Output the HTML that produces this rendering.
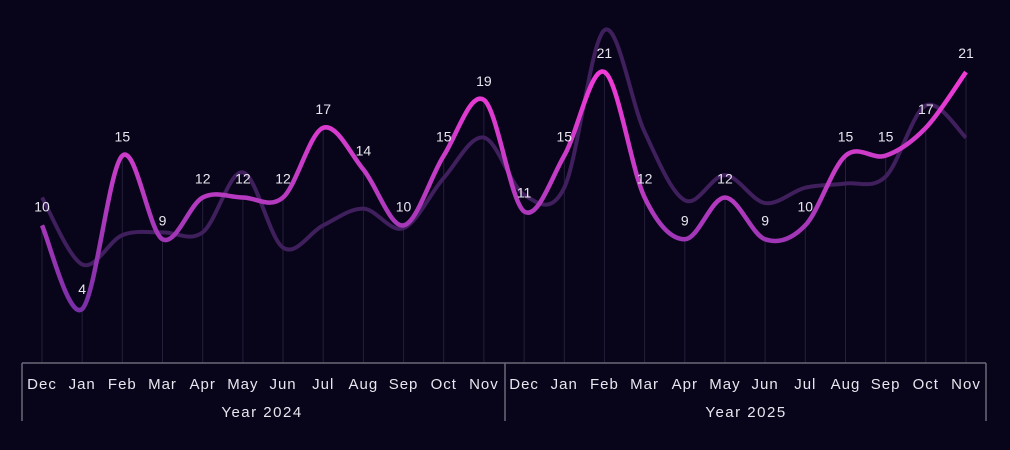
<!DOCTYPE html>
<html><head><meta charset="utf-8"><style>
html,body{margin:0;padding:0;background:#08041a;}
svg{display:block}
text{font-family:"Liberation Sans",sans-serif;fill:#e8e6ee;}
</style></head><body>
<svg id="s" width="1010" height="450" xmlns="http://www.w3.org/2000/svg">
<defs>
<linearGradient id="g" gradientUnits="userSpaceOnUse" x1="0" y1="72" x2="0" y2="309">
<stop offset="0" stop-color="#f23ad8"/><stop offset="0.45" stop-color="#c03cc4"/><stop offset="1" stop-color="#7a2fa6"/>
</linearGradient>
</defs>
<rect width="1010" height="450" fill="#08041a"/>
<g stroke="#24203a" stroke-width="1">
<line x1="42" y1="225" x2="42" y2="363"/>
<line x1="82.2" y1="309" x2="82.2" y2="363"/>
<line x1="122.3" y1="156" x2="122.3" y2="363"/>
<line x1="162.5" y1="239" x2="162.5" y2="363"/>
<line x1="202.7" y1="197" x2="202.7" y2="363"/>
<line x1="242.9" y1="197" x2="242.9" y2="363"/>
<line x1="283" y1="197" x2="283" y2="363"/>
<line x1="323.2" y1="128" x2="323.2" y2="363"/>
<line x1="363.4" y1="170" x2="363.4" y2="363"/>
<line x1="403.6" y1="225" x2="403.6" y2="363"/>
<line x1="443.7" y1="156" x2="443.7" y2="363"/>
<line x1="483.9" y1="100" x2="483.9" y2="363"/>
<line x1="524.1" y1="211" x2="524.1" y2="363"/>
<line x1="564.3" y1="156" x2="564.3" y2="363"/>
<line x1="604.4" y1="72" x2="604.4" y2="363"/>
<line x1="644.6" y1="197" x2="644.6" y2="363"/>
<line x1="684.8" y1="239" x2="684.8" y2="363"/>
<line x1="725" y1="197" x2="725" y2="363"/>
<line x1="765.1" y1="239" x2="765.1" y2="363"/>
<line x1="805.3" y1="225" x2="805.3" y2="363"/>
<line x1="845.5" y1="156" x2="845.5" y2="363"/>
<line x1="885.7" y1="156" x2="885.7" y2="363"/>
<line x1="925.8" y1="128" x2="925.8" y2="363"/>
<line x1="966" y1="72" x2="966" y2="363"/>
</g>
<path id="p2" fill="none" stroke="#3f1f5c" stroke-width="4"/>
<path id="p1" fill="none" stroke="url(#g)" stroke-width="4.5"/>
<g id="lbl" font-size="14" text-anchor="middle"></g>
<line x1="22" y1="363" x2="986" y2="363" stroke="#6a6878" stroke-width="1.5"/>
<line x1="22" y1="363" x2="22" y2="421" stroke="#6a6878" stroke-width="1.5"/>
<line x1="505" y1="363" x2="505" y2="421" stroke="#6a6878" stroke-width="1.5"/>
<line x1="986" y1="363" x2="986" y2="421" stroke="#6a6878" stroke-width="1.5"/>
<g id="ax" font-size="15" letter-spacing="1" text-anchor="middle"></g>
<text x="262" y="417" font-size="15" letter-spacing="1.5" text-anchor="middle">Year 2024</text>
<text x="746" y="417" font-size="15" letter-spacing="1.5" text-anchor="middle">Year 2025</text>
</svg>
<script>
var NS="http://www.w3.org/2000/svg";
function el(parent,tag,attrs,txt){var e=document.createElementNS(NS,tag);for(var k in attrs)e.setAttribute(k,attrs[k]);if(txt!=null)e.textContent=txt;document.getElementById(parent).appendChild(e);}
var m=["Dec","Jan","Feb","Mar","Apr","May","Jun","Jul","Aug","Sep","Oct","Nov"];
var v1=[10,4,15,9,12,12,12,17,14,10,15,19,11,15,21,12,9,12,9,10,15,15,17,21];
var v2=[12,7.2,9.3,9.5,9.5,13.8,8.4,10,11.2,9.8,13.4,16.3,12.2,12.7,24,16.7,11.8,13.6,11.6,12.7,13,13.5,18.6,16.3];
function X(i){return 42+i*(966-42)/23;}
function Y(v){return 309-(v-4)*13.94;}
function path(v){var p=v.map(function(a,i){return[X(i),Y(a)]});var d="M"+p[0][0]+","+p[0][1];
for(var i=0;i<p.length-1;i++){var p0=p[i-1]||p[i],p1=p[i],p2=p[i+1],p3=p[i+2]||p2;var t=1/6;
d+=" C"+(p1[0]+(p2[0]-p0[0])*t)+","+(p1[1]+(p2[1]-p0[1])*t)+" "+(p2[0]-(p3[0]-p1[0])*t)+","+(p2[1]-(p3[1]-p1[1])*t)+" "+p2[0]+","+p2[1];}return d;}
document.getElementById("p1").setAttribute("d",path(v1));
document.getElementById("p2").setAttribute("d",path(v2));
for(var i=0;i<24;i++){var x=X(i);
var y=Y(v1[i]);
el("lbl","text",{x:x,y:(i==1?294:y-14)},String(v1[i]));
el("ax","text",{x:x,y:389},m[i%12]);}
</script>
</body></html>
